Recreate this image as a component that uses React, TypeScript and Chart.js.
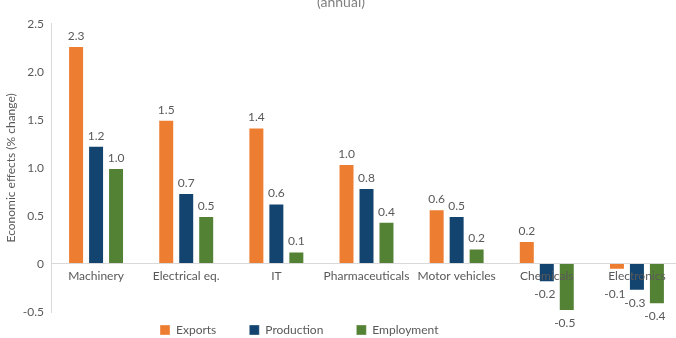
import React, { useEffect, useRef } from "react";
import { Chart, registerables } from "chart.js";

Chart.register(...registerables);

const categories = ["Machinery", "Electrical eq.", "IT", "Pharmaceuticals", "Motor vehicles", "Chemicals", "Electronics"];
const exportsValues = [2.27, 1.5, 1.42, 1.04, 0.57, 0.24, -0.06];
const productionValues = [1.23, 0.74, 0.63, 0.79, 0.5, -0.19, -0.28];
const employmentValues = [1.0, 0.5, 0.13, 0.44, 0.16, -0.49, -0.42];
const seriesNames = ["Exports", "Production", "Employment"];
const seriesColors = ["#ED7D31", "#12446F", "#548235"];
const yTitle = "Economic effects (% change)";
const chartTitle = "(annual)";

const TEXT = "#595959";
const FONT = "Lato, 'Liberation Sans', sans-serif";

const valueLabels = {
  id: "valueLabels",
  afterDatasetsDraw(chart: any) {
    const ctx = chart.ctx;
    ctx.save();
    ctx.font = `12px ${FONT}`;
    ctx.fillStyle = TEXT;
    ctx.textAlign = "center";
    const zeroY = chart.scales.y.getPixelForValue(0);
    chart.data.datasets.forEach((ds: any, di: number) => {
      const meta = chart.getDatasetMeta(di);
      meta.data.forEach((bar: any, i: number) => {
        const v = ds.data[i];
        const txt = v.toFixed(1);
        if (v >= 0) {
          ctx.textBaseline = "bottom";
          ctx.fillText(txt, bar.x, bar.y - 4);
        } else {
          ctx.textBaseline = "top";
          const extra = bar.y - zeroY < 12 ? 12 : 0;
          ctx.fillText(txt, bar.x - 2, bar.y + 6 + extra);
        }
      });
    });
    ctx.restore();
  },
};

const legendPlace = {
  id: "legendPlace",
  afterLayout(chart: any) {
    const lg = chart.legend;
    if (!lg) return;
    const dx = 127 - lg.left;
    const dy = 297 - lg.top;
    lg.left += dx;
    lg.right += dx;
    lg.top += dy;
    lg.bottom += dy;
  },
};

export default function App() {
  const ref = useRef<HTMLCanvasElement | null>(null);
  useEffect(() => {
    if (!ref.current) return;
    const sets = [exportsValues, productionValues, employmentValues];
    const chart = new Chart(ref.current, {
      type: "bar",
      data: {
        labels: categories,
        datasets: sets.map((d, k) => ({
          label: seriesNames[k],
          data: d,
          backgroundColor: seriesColors[k],
          borderColor: "rgba(255,255,255,0.35)",
          borderWidth: 1,
          barPercentage: 0.8,
          categoryPercentage: 0.665,
        })),
      },
      options: {
        responsive: false,
        animation: false,
        maintainAspectRatio: false,
        layout: { padding: 0 },
        plugins: {
          title: {
            display: true,
            text: chartTitle,
            color: "#7f7f7f",
            font: { family: FONT, size: 14, weight: "normal" },
            padding: { top: 0, bottom: 13 },
          },
          legend: {
            position: "bottom",
            align: "start",
            labels: {
              boxWidth: 10,
              boxHeight: 10,
              padding: 33,
              color: TEXT,
              font: { family: FONT, size: 12 },
            },
          },
          tooltip: { enabled: false },
        },
        scales: {
          x: {
            position: { y: 0 } as any,
            grid: { display: false, drawTicks: false },
            border: { display: true, color: "#d9d9d9", width: 1, z: 1 },
            ticks: { z: 1, color: TEXT, font: { family: FONT, size: 12 }, padding: 5, maxRotation: 0, autoSkip: false },
          },
          y: {
            min: -0.5,
            max: 2.5,
            grid: { display: false, drawTicks: false },
            border: { display: true, color: "#d9d9d9", width: 1 },
            ticks: { stepSize: 0.5, color: TEXT, font: { family: FONT, size: 12 }, padding: 7 },
            title: { display: true, text: yTitle, color: TEXT, font: { family: FONT, size: 12 } },
            afterFit: (s: any) => {
              s.width = 51;
            },
          },
        },
      },
      plugins: [valueLabels, legendPlace],
    });
    return () => chart.destroy();
  }, []);
  return (
    <div style={{ position: "fixed", left: 0, top: 0, width: 676, height: 338, overflow: "hidden", background: "#fff" }}>
      <div style={{ position: "absolute", left: 0, top: -6, width: 682, height: 373 }}>
        <canvas ref={ref} width={682} height={373} style={{ width: 682, height: 373 }} />
      </div>
    </div>
  );
}
